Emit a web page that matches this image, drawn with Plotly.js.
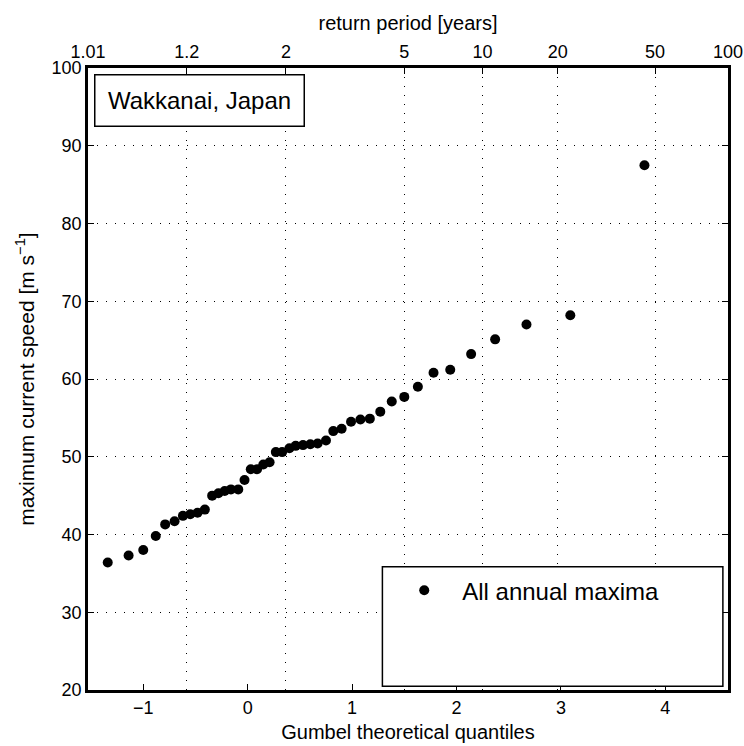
<!DOCTYPE html>
<html>
<head>
<meta charset="utf-8">
<script src="https://cdn.plot.ly/plotly-3.0.1.min.js"></script>
<style>html,body{margin:0;padding:0;background:#fff;}#chart{width:744px;height:746px;}</style>
</head>
<body>
<div id="chart"></div>
<script>
// Gumbel theoretical quantiles (x)
const quantiles = [-1.34, -1.14, -1.00, -0.88, -0.79, -0.70, -0.62, -0.55, -0.48, -0.41,
  -0.34, -0.28, -0.22, -0.16, -0.09, -0.03, 0.03, 0.09, 0.15, 0.21,
  0.27, 0.33, 0.40, 0.46, 0.53, 0.60, 0.67, 0.75, 0.82, 0.90,
  0.99, 1.08, 1.17, 1.27, 1.38, 1.50, 1.63, 1.78, 1.94, 2.14,
  2.37, 2.67, 3.09, 3.80];
// Annual maxima of current speed [m s^-1]
const maxima = [36.4, 37.3, 38.0, 39.8, 41.3, 41.7, 42.4, 42.6, 42.8, 43.2,
  45.0, 45.3, 45.6, 45.8, 45.8, 47.0, 48.4, 48.4, 49.0, 49.3,
  50.6, 50.6, 51.1, 51.4, 51.5, 51.6, 51.7, 52.1, 53.3, 53.6,
  54.5, 54.8, 54.9, 55.8, 57.1, 57.7, 59.0, 60.8, 61.2, 63.2,
  65.1, 67.0, 68.2, 87.5];
// Return period tick labels (top axis) and their Gumbel quantile positions
const returnPeriodLabels = ["1.01", "1.2", "2", "5", "10", "20", "50", "100"];
const returnPeriodPos = [-1.529, -0.583, 0.367, 1.500, 2.250, 2.970, 3.902, 4.600];
const bottomTicks = [-1, 0, 1, 2, 3, 4];
const yTicks = [20, 30, 40, 50, 60, 70, 80, 90, 100];

const FONT = "Liberation Sans, Arial, Helvetica, sans-serif";
const xRange = [-1.529, 4.600];

const traces = [
  {
    type: "scatter", mode: "markers",
    x: quantiles, y: maxima,
    name: "All annual maxima",
    marker: {color: "#000", size: 10},
    xaxis: "x", yaxis: "y",
    hoverinfo: "x+y"
  },
  {
    type: "scatter", mode: "markers",
    x: [], y: [],
    xaxis: "x2", yaxis: "y",
    showlegend: false, hoverinfo: "skip"
  }
];

const layout = {
  width: 744, height: 746,
  margin: {l: 88, r: 16, t: 68, b: 56},
  paper_bgcolor: "#fff", plot_bgcolor: "#fff",
  font: {family: FONT, size: 18, color: "#000"},
  showlegend: true,
  xaxis: {
    range: xRange, tickvals: bottomTicks,
    ticks: "inside", ticklen: 6, tickwidth: 1, tickcolor: "#000",
    showline: true, linewidth: 2.8, linecolor: "#000", mirror: true,
    showgrid: false, zeroline: false,
    tickfont: {size: 18},
    title: {text: "Gumbel theoretical quantiles", font: {size: 20}, standoff: 8}
  },
  xaxis2: {
    range: xRange, overlaying: "x", side: "top", anchor: "y",
    tickvals: returnPeriodPos, ticktext: returnPeriodLabels,
    ticks: "inside", ticklen: 6, tickwidth: 1, tickcolor: "#000",
    showline: true, linewidth: 2.8, linecolor: "#000",
    showgrid: true, gridcolor: "#000", gridwidth: 1, griddash: "1px,8px",
    zeroline: false,
    tickfont: {size: 18},
    title: {text: "return period [years]", font: {size: 20}, standoff: 6}
  },
  yaxis: {
    range: [20, 100], tickvals: yTicks,
    ticks: "inside", ticklen: 6, tickwidth: 1, tickcolor: "#000",
    showline: true, linewidth: 2.8, linecolor: "#000", mirror: "ticks",
    showgrid: true, gridcolor: "#000", gridwidth: 1, griddash: "1px,8px",
    zeroline: false,
    tickfont: {size: 18},
    title: {text: "maximum current speed [m s<sup>−1</sup>]", font: {size: 21}, standoff: 12}
  },
  legend: {
    x: 0.466, y: 0.196, xanchor: "left", yanchor: "top",
    bgcolor: "rgba(0,0,0,0)", borderwidth: 0, itemwidth: 66,
    font: {size: 24, family: FONT}
  },
  shapes: [
    {type: "rect", xref: "paper", yref: "paper",
     x0: 0.460, x1: 0.992, y0: 0.006, y1: 0.198,
     line: {color: "#000", width: 1.5}, fillcolor: "#fff", layer: "above"}
  ],
  annotations: [
    {xref: "paper", yref: "paper", x: 0.0094, y: 0.990, xanchor: "left", yanchor: "top",
     text: "Wakkanai, Japan", showarrow: false, align: "center",
     font: {size: 24, family: FONT},
     bgcolor: "#fff", bordercolor: "#000", borderwidth: 1.5, borderpad: 4,
     width: 200, height: 42}
  ]
};

Plotly.newPlot("chart", traces, layout, {displayModeBar: false, staticPlot: true});
</script>
</body>
</html>
